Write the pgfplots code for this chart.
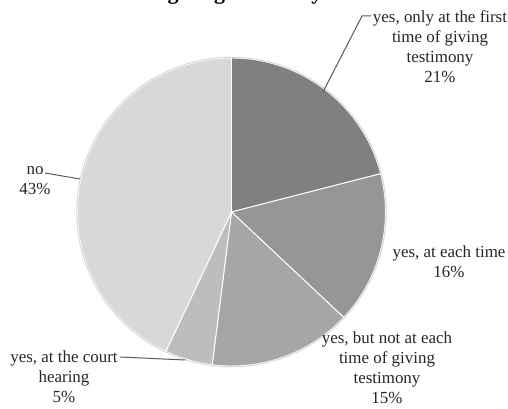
\documentclass[border=0pt]{standalone}
\usepackage{pgfplots}
\pgfplotsset{compat=1.18}
\usepackage{fontspec}
\setmainfont{Liberation Serif}
\definecolor{c1}{HTML}{808080}
\definecolor{c2}{HTML}{969696}
\definecolor{c3}{HTML}{A6A6A6}
\definecolor{c4}{HTML}{BDBDBD}
\definecolor{c5}{HTML}{D8D8D8}
\definecolor{txt}{HTML}{262626}
\tikzset{lbl/.style={align=center, font=\fontsize{12.7}{15}\selectfont, text=txt, inner sep=0pt}}
\begin{document}
\begin{tikzpicture}
\begin{axis}[
  x=0.75pt, y=0.75pt, xmin=0, xmax=508, ymin=0, ymax=409,
  y dir=reverse, hide axis, clip=false, scale only axis,
]
\def\R{115.5pt}
% slices: 21, 16, 15, 5, 43 percent, clockwise from top
\fill[c1, draw=white, line width=0.7pt] (axis cs:231.5,212) -- ++(90:\R) arc[start angle=90, delta angle={-21*3.6}, radius=\R] -- cycle;
\fill[c2, draw=white, line width=0.7pt] (axis cs:231.5,212) -- ++(14.4:\R) arc[start angle=14.4, delta angle={-16*3.6}, radius=\R] -- cycle;
\fill[c3, draw=white, line width=0.7pt] (axis cs:231.5,212) -- ++(-43.2:\R) arc[start angle=-43.2, delta angle={-15*3.6}, radius=\R] -- cycle;
\fill[c4, draw=white, line width=0.7pt] (axis cs:231.5,212) -- ++(-97.2:\R) arc[start angle=-97.2, delta angle={-5*3.6}, radius=\R] -- cycle;
\fill[c5, draw=white, line width=0.7pt] (axis cs:231.5,212) -- ++(-115.2:\R) arc[start angle=-115.2, delta angle={-43*3.6}, radius=\R] -- cycle;
\draw[black!15, line width=0.8pt] (axis cs:231.5,212) circle[radius={\R+0.5pt}];
% leader lines
\draw[black!65, line width=0.75pt] (axis cs:371,16) -- (axis cs:362,16) -- (axis cs:323,92);
\draw[black!65, line width=0.75pt] (axis cs:120,357) -- (axis cs:185,360);
\draw[black!65, line width=0.75pt] (axis cs:45,173) -- (axis cs:80,179);
% labels
\node[lbl] at (axis cs:440,46.5) {yes, only at the first\\time of giving\\testimony\\21\%};
\node[lbl] at (axis cs:449,261.5) {yes, at each time\\16\%};
\node[lbl] at (axis cs:387,368) {yes, but not at each\\time of giving\\testimony\\15\%};
\node[lbl] at (axis cs:64,377) {yes, at the court\\hearing\\5\%};
\node[lbl] at (axis cs:35,181) {no\\43\%};
\node[anchor=base, inner sep=0pt, font=\bfseries\fontsize{16.5}{18}\selectfont, text=black] at (axis cs:218,-0.5) {before giving testimony?};
\end{axis}
\pgfresetboundingbox
\useasboundingbox (0,0) rectangle (381pt,306.75pt);
\end{tikzpicture}
\end{document}
